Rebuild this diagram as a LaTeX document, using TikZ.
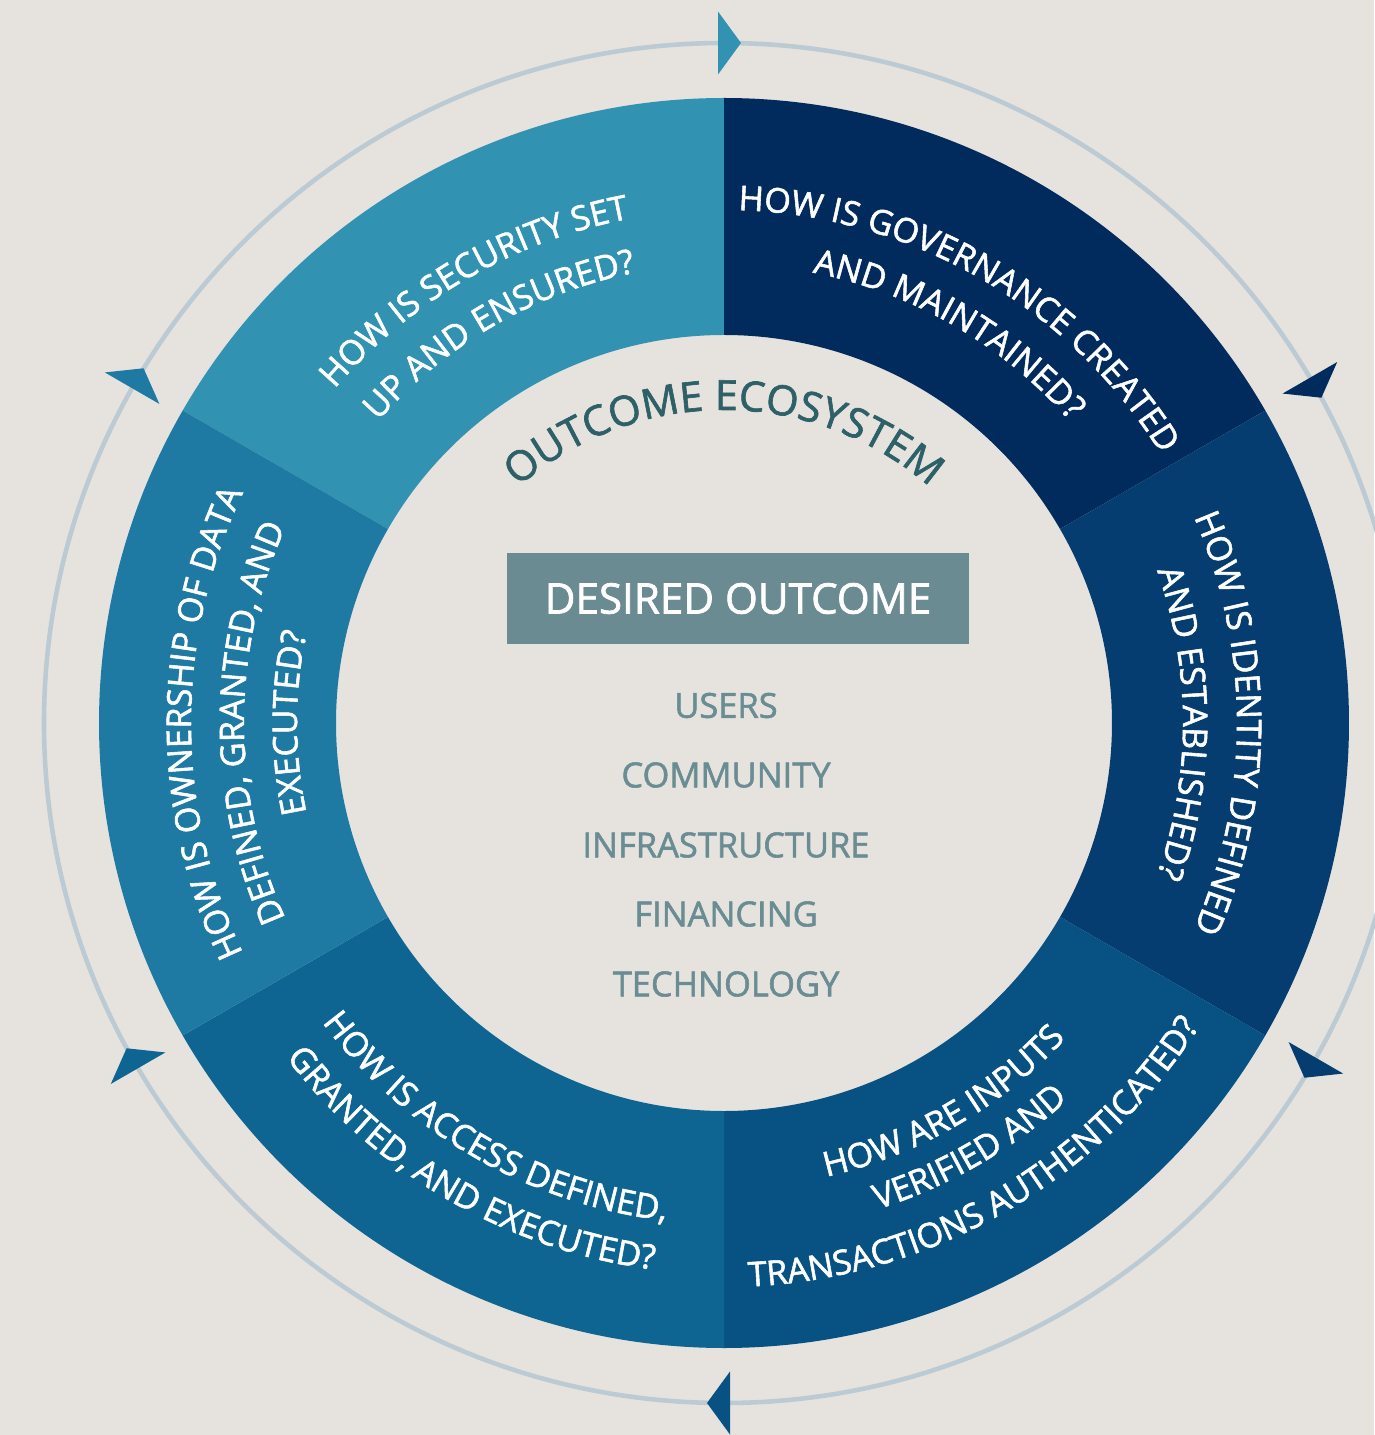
\documentclass[tikz,border=0pt]{standalone}
\usepackage{fontspec}
\setmainfont{Open Sans}[FakeBold=1.6]
\usetikzlibrary{decorations.text}

\definecolor{bgpaper}{HTML}{E6E3DF}
\definecolor{ringline}{HTML}{BCCAD3}
\definecolor{segsec}{HTML}{3292B2}
\definecolor{seggov}{HTML}{012B5D}
\definecolor{segid}{HTML}{053D70}
\definecolor{seginp}{HTML}{075282}
\definecolor{segacc}{HTML}{0F6592}
\definecolor{segown}{HTML}{1E7AA3}
\definecolor{ecotext}{HTML}{2E6068}
\definecolor{listtext}{HTML}{6A8C93}
\definecolor{boxfill}{HTML}{6A8B92}

\newcommand\segfont{\fontsize{9.7}{11}\selectfont}
\newcommand\ecofont{\fontsize{11.8}{13}\selectfont}

\begin{document}
\begin{tikzpicture}[
    outtext/.style={decorate, decoration={text along path, text align=center,
        text color=white, text={|\segfont|#1}}},
    ecoarc/.style={decorate, decoration={text along path, text align=center,
        text color=ecotext, text={|\ecofont|#1}}},
    outcomebox/.style={fill=boxfill, text=white, font=\fontsize{12}{14}\selectfont,
        minimum width=4.62cm, minimum height=0.91cm, inner sep=0pt},
    listitem/.style={text=listtext, font=\fontsize{9.8}{12}\selectfont, inner sep=0pt}]

    \fill[bgpaper] (-7.24,-7.12) rectangle (6.50,7.23);
    \useasboundingbox (-7.24,-7.12) rectangle (6.50,7.23);

    % ring of questions
    \foreach \a/\c in {90/segsec, 30/seggov, -30/segid, -90/seginp, -150/segacc, 150/segown}
        \fill[\c] (\a:3.88) -- (\a:6.25) arc[start angle=\a, end angle=\a+60, radius=6.25]
            -- (\a+60:3.88) arc[start angle=\a+60, end angle=\a, radius=3.88] -- cycle;

    % cycle circle and its arrow heads
    \draw[ringline, line width=1.3pt] (0,0) circle[radius=6.8];
    \foreach \a/\c in {90/segsec, 30/seggov, -30/segid, -90/seginp, -150/segacc, 150/segown}
        \fill[\c, shift={(\a:6.8)}, rotate=\a-90] (-0.06,-0.315) -- (-0.06,0.315) -- (0.17,0) -- cycle;

    % upper questions, read clockwise
    \path[outtext={HOW IS SECURITY SET}] (160:5.13) arc[start angle=160, end angle=80, radius=5.13];
    \path[outtext={UP AND ENSURED?}] (160:4.59) arc[start angle=160, end angle=80, radius=4.59];
    \path[outtext={HOW IS GOVERNANCE CREATED}] (100:5.13) arc[start angle=100, end angle=20, radius=5.13];
    \path[outtext={AND MAINTAINED?}] (100:4.59) arc[start angle=100, end angle=20, radius=4.59];
    \path[outtext={HOW IS IDENTITY DEFINED}] (40:5.13) arc[start angle=40, end angle=-40, radius=5.13];
    \path[outtext={AND ESTABLISHED?}] (40:4.59) arc[start angle=40, end angle=-40, radius=4.59];
    \path[outtext={HOW IS OWNERSHIP OF DATA}] (220:5.33) arc[start angle=220, end angle=140, radius=5.33];
    \path[outtext={DEFINED, GRANTED, AND}] (220:4.80) arc[start angle=220, end angle=140, radius=4.80];
    \path[outtext={EXECUTED?}] (220:4.27) arc[start angle=220, end angle=140, radius=4.27];

    % lower questions, read anticlockwise
    \path[outtext={HOW ARE INPUTS}] (-100:4.65) arc[start angle=-100, end angle=-20, radius=4.65];
    \path[outtext={VERIFIED AND}] (-100:5.10) arc[start angle=-100, end angle=-20, radius=5.10];
    \path[outtext={TRANSACTIONS AUTHENTICATED?}] (-100:5.64) arc[start angle=-100, end angle=-20, radius=5.64];
    \path[outtext={HOW IS ACCESS DEFINED,}] (-160:5.01) arc[start angle=-160, end angle=-80, radius=5.01];
    \path[outtext={GRANTED, AND EXECUTED?}] (-160:5.51) arc[start angle=-160, end angle=-80, radius=5.51];

    % centre
    \path[ecoarc={OUTCOME ECOSYSTEM}] (150:3.13) arc[start angle=150, end angle=30, radius=3.13];
    \node[outcomebox] (desired) at (0.14,1.245) {DESIRED OUTCOME};
    \node[listitem] (users) at (0.02,0.175) {USERS};
    \node[listitem] (community) at (0.02,-0.52) {COMMUNITY};
    \node[listitem] (infra) at (0.02,-1.22) {INFRASTRUCTURE};
    \node[listitem] (financing) at (0.02,-1.91) {FINANCING};
    \node[listitem] (technology) at (0.02,-2.61) {TECHNOLOGY};

\end{tikzpicture}
\end{document}
